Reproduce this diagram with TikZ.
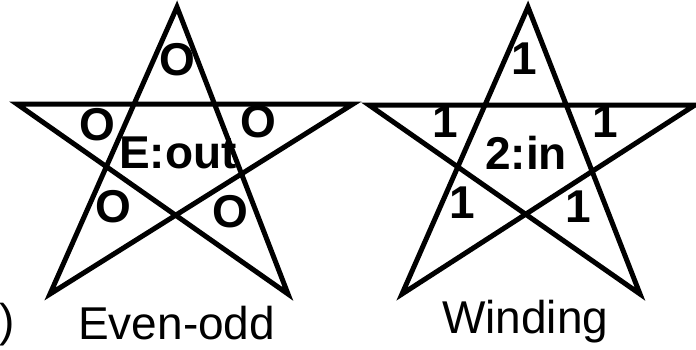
\documentclass[tikz,border=0pt]{standalone}
\usepackage{fontspec}
\setmainfont{Liberation Sans}
\tikzstyle{starline}=[draw,line width=5pt,line join=miter]
\tikzstyle{cnt}=[font=\fontsize{46}{50}\selectfont\bfseries,inner sep=0pt]
\tikzstyle{rulename}=[font=\fontsize{46}{50}\selectfont,inner sep=0pt]

\begin{document}
\begin{tikzpicture}[x=1pt,y=-1pt]
    \useasboundingbox (0,0) rectangle (696,349);
    % even-odd star
    \coordinate (eT) at (177,7);
    \coordinate (eL) at (17,104);
    \coordinate (eR) at (353,104);
    \coordinate (eBL) at (50,294);
    \coordinate (eBR) at (288,294);
    \draw[starline] (eT) -- (eBL) -- (eR) -- (eL) -- (eBR) -- cycle;
    \node[cnt] (eo1) at (177,60) {O};
    \node[cnt] (eo2) at (97,125) {O};
    \node[cnt] (eo3) at (258,122) {O};
    \node[cnt] (eo4) at (113,207) {O};
    \node[cnt] (eo5) at (230,212) {O};
    \node[cnt] (eoin) at (178,153) {E:out};
    % winding star
    \coordinate (wT) at (528,7);
    \coordinate (wL) at (369,105);
    \coordinate (wR) at (695,105);
    \coordinate (wBL) at (402,294);
    \coordinate (wBR) at (640,294);
    \draw[starline] (wT) -- (wBL) -- (wR) -- (wL) -- (wBR) -- cycle;
    \node[cnt] (w1) at (524,59) {1};
    \node[cnt] (w2) at (445,122) {1};
    \node[cnt] (w3) at (605,122) {1};
    \node[cnt] (w4) at (462,203) {1};
    \node[cnt] (w5) at (578,207) {1};
    \node[cnt] (win) at (526,153) {2:in};
    % captions
    \node[rulename,anchor=base east] (paren) at (15,336) {)};
    \node[rulename,anchor=base west] (evenodd) at (78,339) {Even-odd};
    \node[rulename,anchor=base west] (winding) at (442,333) {Winding};
\end{tikzpicture}
\end{document}
